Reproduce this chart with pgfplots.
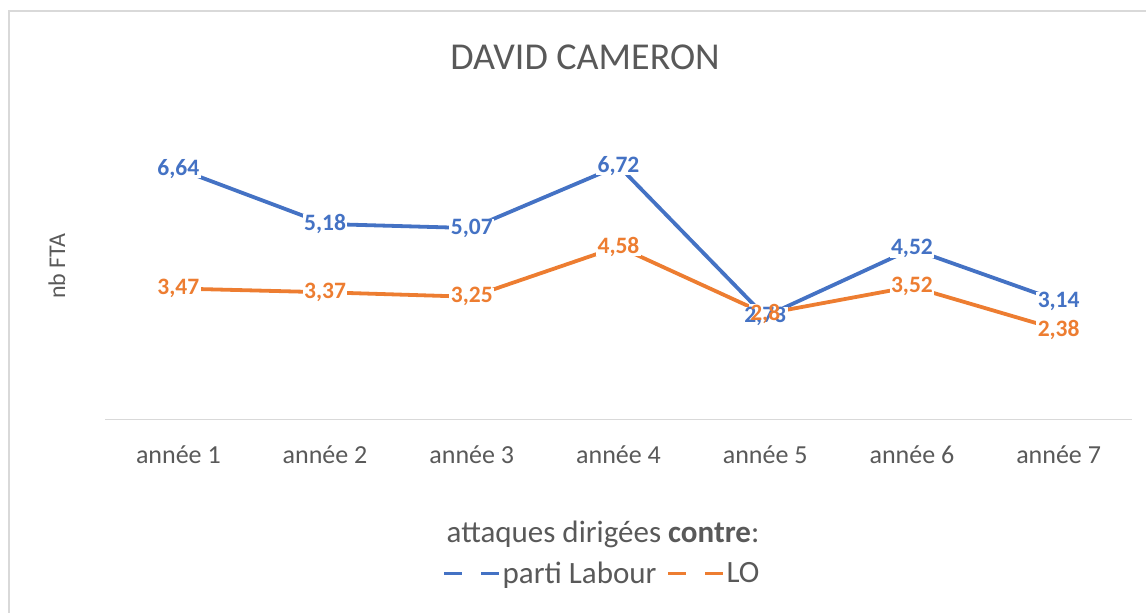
\documentclass[border=0pt]{standalone}
\usepackage{pgfplots}
\pgfplotsset{compat=1.18}
\usepackage{pgfplotstable}
\usepackage{fontspec}
\setmainfont{Carlito}
\definecolor{cblue}{HTML}{4472C4}
\definecolor{corange}{HTML}{ED7D31}
\definecolor{tgrey}{HTML}{595959}
\definecolor{lgrey}{HTML}{D9D9D9}
\pgfplotstableread{
x y lab
1 6.64 {6,64}
2 5.18 {5,18}
3 5.07 {5,07}
4 6.72 {6,72}
5 2.73 {2,73}
6 4.52 {4,52}
7 3.14 {3,14}
}\labour
\pgfplotstableread{
x y lab
1 3.47 {3,47}
2 3.37 {3,37}
3 3.25 {3,25}
4 4.58 {4,58}
5 2.8 {2,8}
6 3.52 {3,52}
7 2.38 {2,38}
}\lo
\begin{document}
\begin{tikzpicture}
\begin{axis}[
  scale only axis, width=1027pt, height=302pt,
  xmin=0.5, xmax=7.5, ymin=0, ymax=8,
  axis y line=none, axis x line=bottom,
  x axis line style={-, draw=lgrey, line width=1.5pt},
  xtick={1,...,7},
  xticklabels={année 1,année 2,année 3,année 4,année 5,année 6,année 7},
  major tick length=0pt, ytick=\empty,
  xticklabel style={font=\fontsize{26}{30}\selectfont, text=tgrey, anchor=base, yshift=-43.5pt},
  clip=false,
  legend columns=2,
  legend style={at={(0.484,-0.51)}, anchor=center, draw=none, fill=none,
    font=\fontsize{31}{36}\selectfont, text=tgrey,
    /tikz/every even column/.append style={column sep=8pt},
    nodes={inner sep=2pt}},
  legend image code/.code={
    \draw[#1, line width=3pt] (0pt,0pt) -- (18pt,0pt);
    \draw[#1, line width=3pt] (37pt,0pt) -- (55pt,0pt);},
  lbl/.style={nodes near coords, point meta=explicit symbolic,
    every node near coord/.append style={anchor=center, inner xsep=1.5pt, inner ysep=0pt,
      font=\fontsize{23.5}{26}\selectfont\bfseries}},
]
\addplot[cblue, line width=3.8pt] table[x=x, y=y] {\labour};
\addlegendentry{parti Labour}
\addplot[corange, line width=3.8pt] table[x=x, y=y] {\lo};
\addlegendentry{LO}
% white boxes under labels
\addplot[draw=none, forget plot, lbl, every node near coord/.append style={fill=white, text=white}] table[x=x, y=y, meta=lab] {\labour};
\addplot[draw=none, forget plot, lbl, every node near coord/.append style={fill=white, text=white}] table[x=x, y=y, meta=lab] {\lo};
% label texts
\addplot[draw=none, forget plot, lbl, every node near coord/.append style={text=cblue}] table[x=x, y=y, meta=lab] {\labour};
\addplot[draw=none, forget plot, lbl, every node near coord/.append style={text=corange}] table[x=x, y=y, meta=lab] {\lo};
\end{axis}
\begin{scope}[shift={(current axis.south west)}, x=1pt, y=1pt]
  \draw[lgrey, line width=1.5pt] (9-105, 419.5-11) rectangle (1250-105, 419.5-720);
  \node[text=tgrey, font=\fontsize{38}{44}\selectfont, anchor=base] at (585-105, 419.5-70) {DAVID CAMERON};
  \node[text=tgrey, font=\fontsize{24}{28}\selectfont, rotate=90, anchor=center] at (57-105, 419.5-266) {nb FTA};
  \node[text=tgrey, font=\fontsize{31}{36}\selectfont, anchor=base] at (603-105, 419.5-542) {attaques dirigées \textbf{contre}:};
  \pgfresetboundingbox
  \path[use as bounding box] (-105, 419.5) rectangle (1041, -193.5);
\end{scope}
\end{tikzpicture}
\end{document}
